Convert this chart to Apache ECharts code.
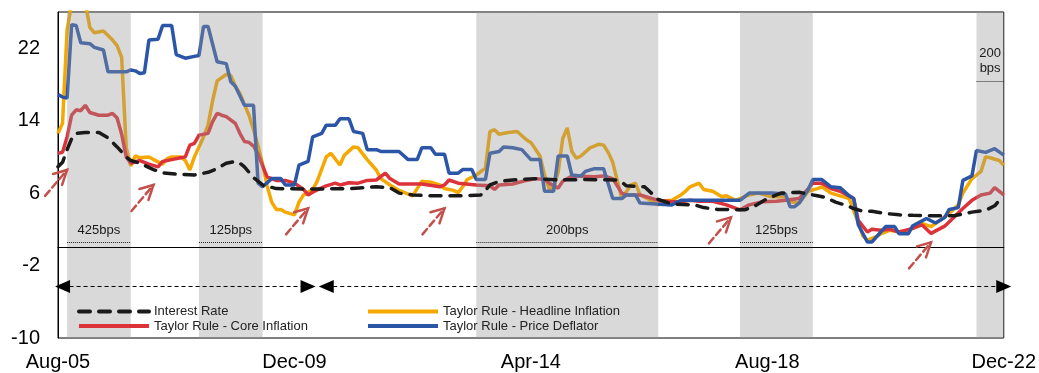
<!DOCTYPE html>
<html>
<head>
<meta charset="utf-8">
<script src="https://cdn.jsdelivr.net/npm/echarts@6/dist/echarts.min.js"></script>
<style>
    html, body { margin: 0; padding: 0; background: #fff; }
    #chart { width: 1039px; height: 373px; }
</style>
</head>
<body>
<div id="chart"></div>
<script>
// months Aug-05 .. Dec-22, index 0 = Aug-05
let monthNames = ["Jan", "Feb", "Mar", "Apr", "May", "Jun", "Jul", "Aug", "Sep", "Oct", "Nov", "Dec"];
let months = [];
for (let k = 0; k < 209; k++) {
    let m = (7 + k) % 12;
    let y = 2005 + Math.floor((7 + k) / 12);
    months.push(monthNames[m] + "-" + String(y % 100).padStart(2, "0"));
}
let tickLabels = ["Aug-05", "Dec-09", "Apr-14", "Aug-18", "Dec-22"];

// [month index, value]
let interestRate = [
    [0, 8.9], [1, 9.4], [2, 10.8], [3, 12.0], [4, 12.6], [6, 12.7], [9, 12.7], [11, 12.1], [13, 11.1],
    [15, 10.0], [16, 9.6], [18, 9.3], [21, 8.6], [23, 8.25], [26, 8.1], [30, 8.0], [33, 8.3], [35, 8.7],
    [37, 9.3], [39, 9.5], [40, 9.3], [41, 8.9], [43, 7.7], [45, 6.9], [48, 6.5], [56, 6.45], [64, 6.5],
    [70, 6.7], [73, 6.6], [75, 6.0], [78, 5.8], [82, 5.7], [89, 5.7], [93, 5.8], [94, 6.3], [95, 6.9],
    [97, 7.3], [100, 7.45], [105, 7.6], [110, 7.45], [116, 7.5], [123, 7.45], [124, 7.2], [125, 6.8],
    [129, 6.7], [132, 5.3], [135, 4.8], [140, 4.7], [142, 4.4], [145, 4.2], [151, 4.15], [153, 4.5],
    [156, 5.4], [159, 6.0], [163, 6.1], [167, 5.7], [169, 5.5], [171, 5.0], [173, 4.7], [175, 4.3],
    [177, 4.0], [179, 4.0], [182, 3.75], [185, 3.6], [188, 3.55], [192, 3.5], [197, 3.5], [201, 3.9],
    [204, 4.1], [206, 4.6], [207, 5.2], [208, 5.6]
];
let coreInflation = [
    [0, 10.4], [1, 10.5], [2, 12.2], [3, 14.6], [4, 15.2], [5, 15.1], [6, 15.7], [7, 14.9], [9, 14.6],
    [11, 14.6], [12, 14.8], [13, 14.3], [14, 12.5], [15, 10.0], [16, 9.3], [18, 9.6], [20, 9.2],
    [22, 8.9], [23, 9.5], [25, 9.7], [27, 9.9], [28, 10.0], [29, 11.3], [30, 11.5], [31, 12.4],
    [33, 12.6], [34, 13.9], [35, 14.8], [36, 14.6], [37, 14.45], [39, 13.7], [40, 12.6], [41, 11.7],
    [42, 11.6], [43, 11.2], [44, 10.3], [45, 9.0], [46, 7.8], [48, 7.4], [50, 7.4], [52, 7.1],
    [54, 6.4], [55, 5.8], [56, 6.1], [57, 6.35], [59, 6.8], [61, 7.1], [62, 6.9], [64, 7.15],
    [66, 7.1], [68, 7.4], [70, 7.45], [72, 8.2], [73, 7.6], [75, 7.0], [80, 7.0], [84, 6.7],
    [85, 6.9], [86, 7.45], [88, 7.1], [92, 6.9], [95, 6.8], [96, 6.4], [97, 6.9], [100, 7.0],
    [103, 7.4], [105, 7.6], [107, 7.5], [108, 7.1], [110, 6.55], [111, 7.3], [113, 7.9], [118, 7.8],
    [120, 7.9], [122, 7.6], [124, 6.0], [125, 5.8], [128, 5.8], [130, 5.5], [132, 5.2], [135, 5.05],
    [137, 5.05], [139, 5.2], [141, 5.1], [144, 5.1], [147, 4.7], [150, 4.15], [152, 4.7], [155, 5.05],
    [158, 5.1], [160, 5.2], [163, 5.4], [165, 6.5], [166, 7.1], [168, 7.1], [170, 6.5], [172, 6.2],
    [175, 5.4], [176, 3.0], [178, 1.7], [179, 2.0], [181, 1.9], [183, 2.0], [185, 1.7], [188, 2.1],
    [190, 2.5], [192, 1.55], [195, 2.35], [197, 3.3], [199, 4.3], [201, 5.2], [203, 5.8], [205, 6.0],
    [206, 6.6], [208, 5.8]
];
let headlineInflation = [
    [0, 12.6], [1, 13.7], [2, 24.0], [3, 27.0], [6, 27.0], [7, 24.3], [8, 23.7], [10, 23.9],
    [12, 22.9], [13, 22.3], [14, 21.0], [15, 11.0], [16, 9.0], [17, 10.1], [18, 9.9], [20, 10.0],
    [21, 9.7], [23, 9.2], [24, 9.8], [25, 10.0], [27, 10.0], [28, 9.6], [29, 8.55], [30, 10.0],
    [32, 12.2], [33, 13.5], [34, 16.2], [35, 18.4], [37, 19.1], [38, 19.0], [39, 17.8], [40, 17.0],
    [41, 15.8], [42, 14.6], [43, 13.0], [44, 11.2], [45, 9.2], [46, 6.8], [47, 5.0], [48, 4.2],
    [49, 4.2], [50, 3.9], [52, 3.6], [53, 5.0], [54, 5.8], [56, 6.4], [57, 7.3], [59, 10.0],
    [60, 10.4], [62, 9.1], [63, 10.2], [65, 11.1], [66, 11.0], [68, 9.7], [70, 8.55], [71, 7.6],
    [73, 6.9], [75, 6.3], [78, 5.7], [80, 7.3], [82, 7.2], [84, 6.9], [85, 6.5], [87, 6.3],
    [88, 6.05], [89, 6.7], [90, 7.5], [92, 8.0], [94, 8.75], [95, 12.8], [96, 13.0], [97, 12.5],
    [99, 12.7], [101, 12.8], [103, 11.9], [104, 11.6], [106, 10.1], [107, 8.0], [108, 6.5],
    [109, 6.6], [110, 8.3], [111, 12.0], [112, 13.2], [113, 10.6], [114, 9.85], [115, 10.1],
    [117, 11.0], [119, 11.4], [120, 11.3], [121, 10.5], [122, 9.4], [124, 5.4], [126, 6.9],
    [127, 7.1], [128, 5.8], [130, 5.3], [132, 4.7], [133, 5.1], [135, 5.2], [137, 5.8], [138, 6.2],
    [139, 6.7], [141, 7.1], [142, 6.4], [144, 6.2], [146, 5.6], [147, 5.7], [149, 5.2], [152, 5.8],
    [154, 6.0], [157, 5.6], [160, 5.6], [161, 5.05], [163, 4.9], [165, 6.2], [167, 6.5], [168, 6.7],
    [170, 6.0], [172, 5.7], [174, 5.4], [176, 2.75], [177, 1.3], [178, 0.8], [180, 1.2], [181, 1.5],
    [183, 1.9], [185, 1.7], [187, 1.9], [190, 2.65], [192, 2.3], [194, 3.0], [196, 3.75], [198, 4.7],
    [199, 6.0], [201, 7.6], [203, 8.4], [204, 10.0], [205, 9.9], [207, 9.6], [208, 9.1]
];
let priceDeflator = [
    [0, 16.9], [1, 16.6], [2, 16.5], [3, 24.6], [4, 24.5], [5, 22.6], [7, 22.5], [8, 22.1],
    [10, 21.8], [11, 19.4], [15, 19.4], [16, 19.6], [17, 19.5], [18, 19.2], [19, 19.3], [20, 22.9],
    [22, 23.0], [23, 24.5], [25, 24.5], [26, 21.3], [28, 20.9], [30, 21.1], [31, 21.2], [32, 24.4],
    [33, 24.4], [35, 20.5], [37, 20.3], [38, 18.3], [39, 17.8], [41, 15.7], [43, 15.7], [44, 7.1],
    [45, 6.7], [47, 7.6], [49, 7.6], [50, 6.9], [52, 6.9], [53, 9.1], [55, 9.5], [56, 12.2],
    [58, 12.6], [59, 13.5], [61, 13.5], [62, 14.2], [64, 14.2], [65, 12.8], [67, 12.6], [68, 10.8],
    [70, 10.8], [71, 10.6], [75, 10.6], [77, 9.7], [79, 9.7], [80, 11.0], [82, 11.0], [83, 10.3],
    [85, 10.3], [86, 8.2], [88, 8.2], [89, 8.6], [91, 8.6], [92, 7.5], [94, 7.5], [95, 10.4],
    [97, 10.6], [98, 11.1], [100, 11.0], [102, 10.8], [104, 9.7], [106, 9.7], [107, 6.2], [109, 6.2],
    [110, 10.1], [112, 10.1], [113, 8.0], [115, 7.9], [116, 8.4], [118, 8.7], [120, 8.7], [122, 5.4],
    [124, 5.4], [125, 5.8], [127, 5.8], [128, 4.9], [135, 4.7], [137, 5.2], [149, 5.2], [150, 5.2],
    [152, 6.0], [157, 6.0], [160, 5.9], [161, 4.5], [162, 4.5], [163, 4.9], [165, 6.4], [166, 7.5],
    [168, 7.5], [170, 6.7], [172, 6.6], [174, 5.7], [175, 5.4], [176, 2.5], [178, 0.6], [179, 0.6],
    [182, 2.3], [184, 2.3], [185, 1.5], [187, 1.5], [188, 2.4], [191, 3.2], [193, 2.7], [195, 3.3],
    [196, 4.2], [198, 4.4], [199, 7.4], [201, 7.9], [202, 10.7], [204, 10.5], [206, 10.9], [208, 10.2]
];

// shaded periods (month index) and the bps move written under each
let bandStart = [2, 31, 92, 150, 202];
let bandEnd = [16, 45, 132, 166, 208];
let bandLabels = ["425bps", "125bps", "200bps", "125bps", "200\nbps"];
let bandLabelValue = [0.55, 0.55, 0.55, 0.55, 18.4];

// small red arrows, tip at [month index, value]
let arrowTips = [[2, 8.56], [21, 6.9], [55, 4.32], [85, 4.32], [148, 3.32], [192, 0.56]];

// dashed double arrows under the zero line
let periodArrows = [[1.4, 54.9], [59.4, 207.5]];
let periodArrowValue = -4.3;

let font = "'Liberation Sans', Arial, sans-serif";

let bandAreas = bandStart.map((s, k) => [{ xAxis: s }, { xAxis: bandEnd[k] }]);

let markLines = [{ yAxis: 0, lineStyle: { type: "solid", color: "#000", width: 1 } }];
bandStart.forEach((s, k) => {
    let st = { type: "dotted", color: "#222", width: 1 };
    let lb = {
        show: true, position: "insideMiddleTop", formatter: bandLabels[k], distance: 5,
        fontSize: 13, fontFamily: font, color: "#1a1a1a", lineHeight: 15
    };
    markLines.push([
        { coord: [s, bandLabelValue[k]], lineStyle: st, label: lb },
        { coord: [bandEnd[k], bandLabelValue[k]], lineStyle: st, label: lb }
    ]);
});
periodArrows.forEach(a => {
    let st = { type: [4, 3], color: "#000", width: 1 };
    markLines.push([
        { coord: [a[0], periodArrowValue], symbol: "triangle", symbolSize: [13, 15], lineStyle: st },
        { coord: [a[1], periodArrowValue], symbol: "triangle", symbolSize: [13, 15], lineStyle: st }
    ]);
});

function lineSeries(name, data, color, z, extra) {
    return Object.assign({
        name: name,
        type: "line",
        data: data,
        symbol: "none",
        z: z,
        silent: true,
        lineStyle: { color: color, width: 3.5 },
        itemStyle: { color: color }
    }, extra || {});
}

let legendBase = {
    orient: "vertical", top: 305, padding: 0,
    itemWidth: 70, itemHeight: 14, itemGap: 1.5, selectedMode: false,
    itemStyle: { opacity: 0, borderWidth: 0 },
    lineStyle: { width: 4 },
    textStyle: { fontSize: 13, fontFamily: font, color: "#222" }
};

let chart = echarts.init(document.getElementById("chart"), null, { renderer: "canvas" });

let option = {
    animation: false,
    backgroundColor: "#fff",
    grid: { left: 58, right: 35, top: 12, bottom: 35, show: true, borderColor: "#000", borderWidth: 1 },
    xAxis: {
        type: "category",
        data: months,
        boundaryGap: false,
        axisLine: { lineStyle: { color: "#000", width: 1 } },
        axisTick: { show: false },
        axisLabel: {
            interval: (idx, val) => tickLabels.indexOf(val) >= 0,
            fontSize: 20, fontFamily: font, color: "#000", margin: 14
        },
        splitLine: { show: false }
    },
    yAxis: {
        type: "value",
        min: -10, max: 26, interval: 8,
        axisLine: { show: true, lineStyle: { color: "#000", width: 1 } },
        axisTick: { show: false },
        axisLabel: { fontSize: 20, fontFamily: font, color: "#000", margin: 18, showMaxLabel: false },
        splitLine: { show: false }
    },
    legend: [
        Object.assign({ data: ["Interest Rate", "Taylor Rule - Core Inflation"], left: 77 }, legendBase),
        Object.assign({ data: ["Taylor Rule - Headline Inflation", "Taylor Rule - Price Deflator"], left: 366 }, legendBase)
    ],
    series: [
        lineSeries("Taylor Rule - Headline Inflation", headlineInflation, "#F5A800", 2),
        lineSeries("Taylor Rule - Core Inflation", coreInflation, "#DC323A", 2),
        lineSeries("Taylor Rule - Price Deflator", priceDeflator, "#2B56A8", 2),
        lineSeries("Interest Rate", interestRate, "#1a1a1a", 4, {
            lineStyle: { color: "#1a1a1a", width: 3.5, type: [11, 9], cap: "round" },
            markArea: {
                z: 3,
                silent: true,
                itemStyle: { color: "rgba(150,150,150,0.36)" },
                data: bandAreas
            },
            markLine: {
                silent: true,
                symbol: "none",
                label: { show: false },
                lineStyle: { color: "#000", width: 1 },
                data: markLines
            }
        }),
        {
            type: "custom",
            z: 7,
            silent: true,
            data: arrowTips,
            renderItem: function (params, api) {
                let p = api.coord([api.value(0), api.value(1)]);
                let x = p[0], y = p[1];
                let st = { stroke: "#C4504C", lineWidth: 2.5, fill: null, lineCap: "round" };
                return {
                    type: "group",
                    children: [
                        { type: "line", shape: { x1: x - 22, y1: y + 26, x2: x, y2: y },
                          style: Object.assign({ lineDash: [7, 4] }, st) },
                        { type: "polyline", shape: { points: [[x - 14, y + 4], [x, y], [x - 5, y + 15]] },
                          style: st }
                    ]
                };
            }
        }
    ]
};

chart.setOption(option);
</script>
</body>
</html>
